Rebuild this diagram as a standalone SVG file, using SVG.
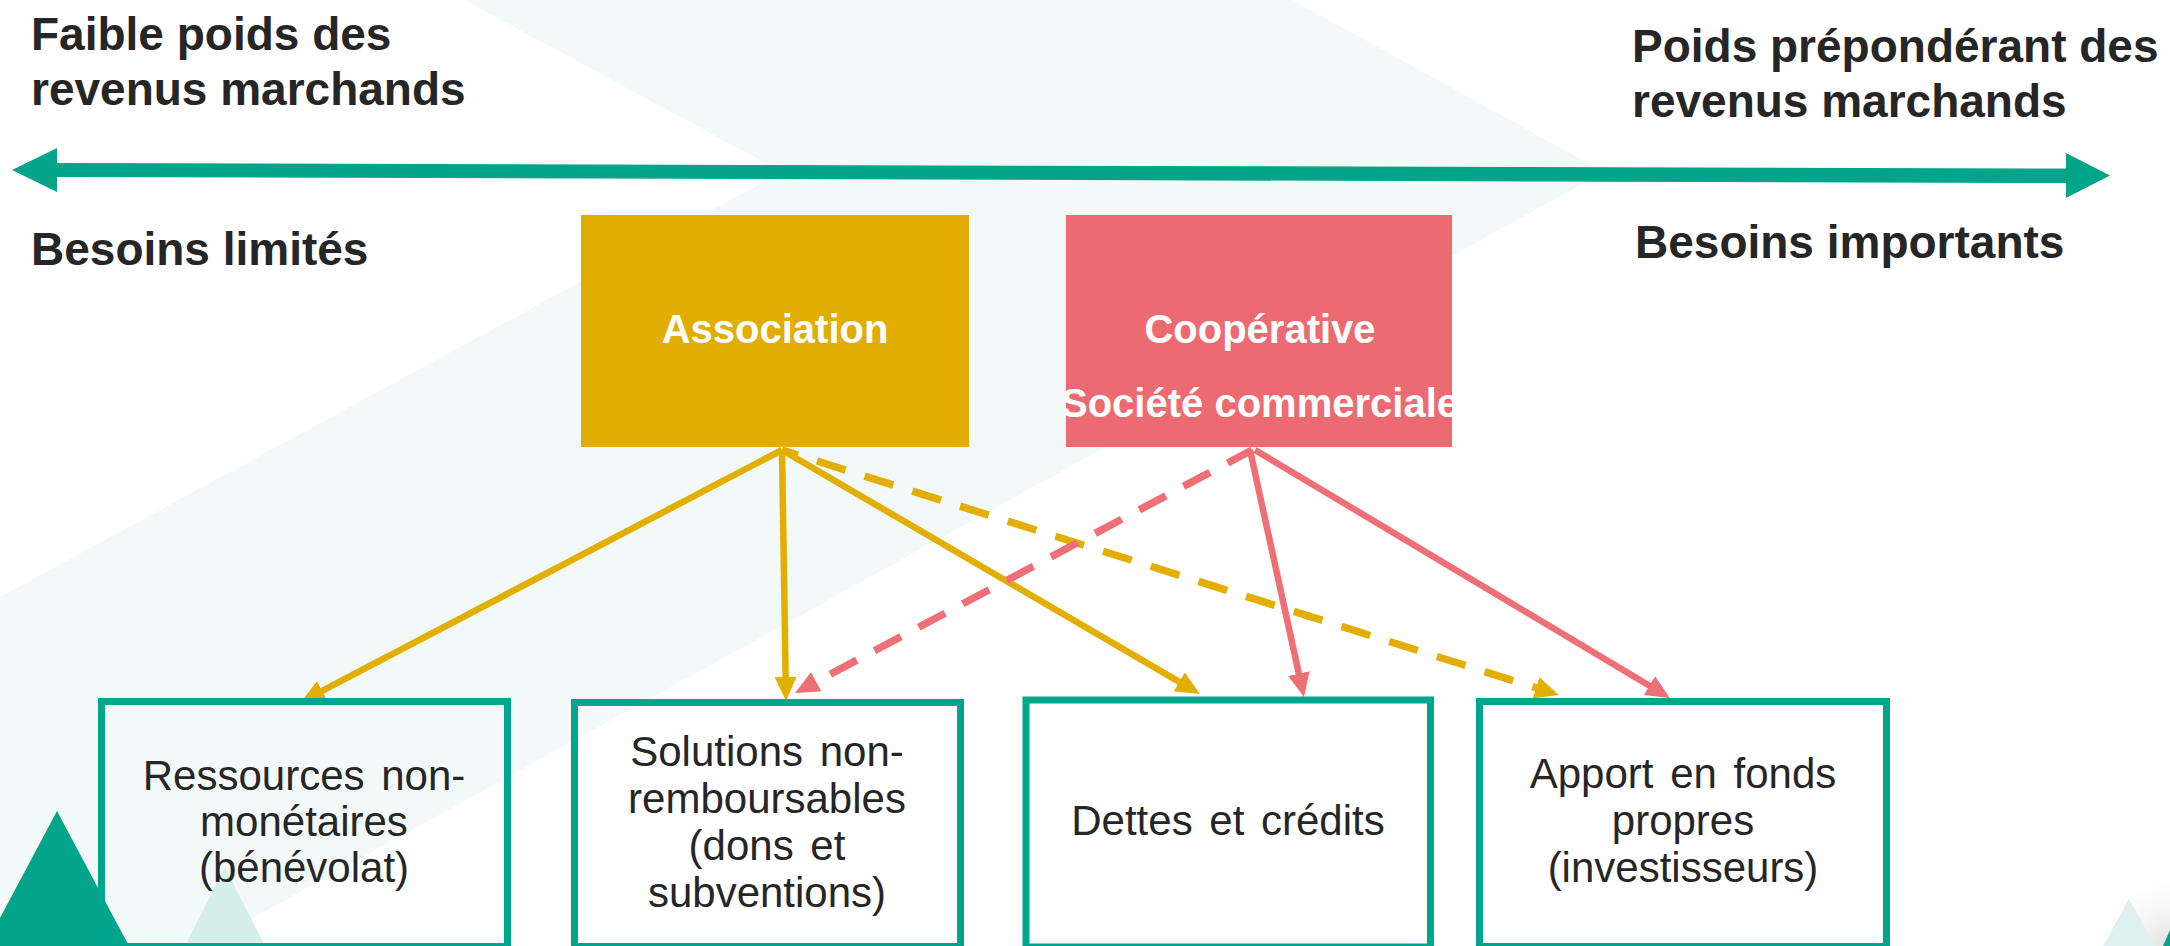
<svg xmlns="http://www.w3.org/2000/svg" width="2170" height="946" viewBox="0 0 2170 946">
  <defs>
    <style>
      .head { font-family: "Liberation Sans", Arial, sans-serif; font-weight: bold; font-size: 46px; fill: #262626; }
      .top { font-family: "Liberation Sans", Arial, sans-serif; font-weight: bold; font-size: 40px; fill: #ffffff; }
      .lbl { font-family: "Liberation Sans", Arial, sans-serif; font-size: 42px; fill: #262626; text-anchor: middle; word-spacing: 5px; }
      .box { fill: none; stroke: #00A68C; stroke-width: 7; }
      .y { stroke: #E2AF00; fill: none; stroke-width: 6.5; }
      .p { stroke: #EF6F76; fill: none; stroke-width: 6.5; }
      .dash { stroke-dasharray: 30 20; stroke-width: 7.5; }
    </style>
    <marker id="ay" markerUnits="userSpaceOnUse" markerWidth="24" markerHeight="22" viewBox="0 0 24 22" refX="4" refY="11" orient="auto">
      <path d="M0,0 L24,11 L0,22 Z" fill="#E2AF00"/>
    </marker>
    <marker id="ap" markerUnits="userSpaceOnUse" markerWidth="24" markerHeight="22" viewBox="0 0 24 22" refX="4" refY="11" orient="auto">
      <path d="M0,0 L24,11 L0,22 Z" fill="#EF6F76"/>
    </marker>
    <clipPath id="coopClip">
      <rect x="1066" y="215" width="386" height="232"/>
    </clipPath>
    <radialGradient id="shade" cx="2170" cy="946" r="80" gradientUnits="userSpaceOnUse">
      <stop offset="0" stop-color="#dcdcdc" stop-opacity="0.9"/>
      <stop offset="1" stop-color="#ffffff" stop-opacity="0"/>
    </radialGradient>
  </defs>

  <!-- background -->
  <rect x="0" y="0" width="2170" height="946" fill="#ffffff"/>
  <polygon points="464,0 1293,0 1604,172 202,946 0,946 0,597 782,172" fill="#F3F9F8"/>
  <rect x="2090" y="866" width="80" height="80" fill="url(#shade)"/>
  <polygon points="57,811 129,946 -15,946" fill="#02A48A"/>
  <polygon points="225,867 185,946 265,946" fill="#D6EFEA"/>
  <polygon points="2129,899 2103,946 2155,946" fill="#DDF1EE"/>
  <polygon points="2163,946 2170,930 2170,946" fill="#02A48A"/>

  <!-- axis -->
  <g id="axis">
    <polygon points="12,170 57,148 57,163 2066,168.5 2066,153 2110,175.5 2066,198 2066,183 57,177 57,192" fill="#02A48A"/>
    <text class="head" x="31" y="50">Faible poids des</text>
    <text class="head" x="31" y="105">revenus marchands</text>
    <text class="head" x="31" y="265">Besoins limités</text>
    <text class="head" x="1632" y="62">Poids prépondérant des</text>
    <text class="head" x="1632" y="117">revenus marchands</text>
    <text class="head" x="1635" y="258">Besoins importants</text>
  </g>

  <!-- connectors -->
  <g id="connectors">
    <line class="y" x1="782" y1="450" x2="318.7" y2="692.7" marker-end="url(#ay)"/>
    <line class="y" x1="782" y1="450" x2="785.7" y2="681" marker-end="url(#ay)"/>
    <line class="y" x1="782" y1="450" x2="1182.7" y2="683.9" marker-end="url(#ay)"/>
    <line class="y dash" x1="782" y1="450" x2="1539.9" y2="689" stroke-dashoffset="13.3" marker-end="url(#ay)"/>
    <line class="p dash" x1="1252" y1="450" x2="812.7" y2="683.6" stroke-dashoffset="2.4" marker-end="url(#ap)"/>
    <line class="p" x1="1250" y1="450" x2="1299.7" y2="677.5" marker-end="url(#ap)"/>
    <line class="p" x1="1255" y1="450" x2="1652.8" y2="687.7" marker-end="url(#ap)"/>
  </g>

  <!-- top nodes -->
  <g id="association">
    <rect x="581" y="215" width="388" height="232" fill="#E0AD00"/>
    <text class="top" x="775" y="343" text-anchor="middle">Association</text>
  </g>
  <g id="cooperative">
    <rect x="1066" y="215" width="386" height="232" fill="#EC6A72"/>
    <g clip-path="url(#coopClip)">
      <text class="top" x="1260" y="343" text-anchor="middle">Coopérative</text>
      <text class="top" x="1260" y="417" text-anchor="middle">Société commerciale</text>
    </g>
  </g>

  <!-- bottom nodes -->
  <g id="ressources">
    <rect class="box" x="101.5" y="701.5" width="406" height="245"/>
    <text class="lbl" x="304" y="790">Ressources non-</text>
    <text class="lbl" x="304" y="836">monétaires</text>
    <text class="lbl" x="304" y="882">(bénévolat)</text>
  </g>
  <g id="solutions">
    <rect class="box" x="574.5" y="702.5" width="386" height="244"/>
    <text class="lbl" x="767" y="766">Solutions non-</text>
    <text class="lbl" x="767" y="813">remboursables</text>
    <text class="lbl" x="767" y="860">(dons et</text>
    <text class="lbl" x="767" y="907">subventions)</text>
  </g>
  <g id="dettes">
    <rect class="box" x="1026" y="700" width="404.5" height="247"/>
    <text class="lbl" x="1228" y="835">Dettes et crédits</text>
  </g>
  <g id="apport">
    <rect class="box" x="1479.5" y="701.5" width="407" height="245"/>
    <text class="lbl" x="1683" y="788">Apport en fonds</text>
    <text class="lbl" x="1683" y="835">propres</text>
    <text class="lbl" x="1683" y="882">(investisseurs)</text>
  </g>
</svg>
